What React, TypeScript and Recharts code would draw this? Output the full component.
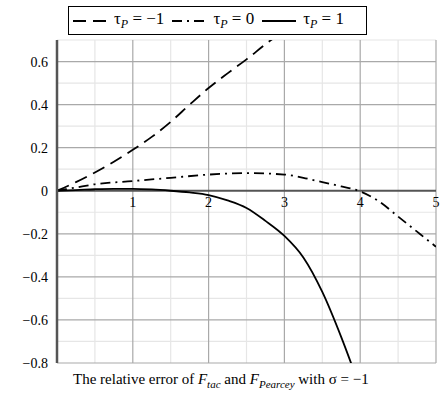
import { LineChart, Line, XAxis, YAxis, ReferenceLine, ReferenceDot, Legend } from "recharts";

// tau_P = -1 (dashed)
const xNeg1 = [0, 0.25, 0.5, 0.75, 1, 1.25, 1.5, 1.75, 2, 2.25, 2.5, 2.75, 3];
const yNeg1 = [0, 0.04, 0.085, 0.135, 0.19, 0.25, 0.32, 0.4, 0.477, 0.545, 0.61, 0.68, 0.745];

// tau_P = 0 (dash-dot)
const xZero = [0, 0.25, 0.5, 1, 1.5, 2, 2.5, 3, 3.25, 3.5, 3.75, 4, 4.25, 4.5, 4.75, 5];
const yZero = [0, 0.015, 0.03, 0.045, 0.06, 0.075, 0.082, 0.075, 0.06, 0.04, 0.02, -0.003, -0.05, -0.12, -0.19, -0.26];

// tau_P = 1 (solid)
const xOne = [0, 0.25, 0.5, 0.75, 1, 1.25, 1.5, 1.75, 2, 2.25, 2.5, 2.75, 3, 3.25, 3.5, 3.75, 3.9];
const yOne = [0, 0.003, 0.007, 0.009, 0.009, 0.006, 0, -0.008, -0.02, -0.045, -0.08, -0.14, -0.21, -0.31, -0.47, -0.68, -0.82];

const xTicks = [1, 2, 3, 4, 5];
const xMinor = [0.5, 1.5, 2.5, 3.5, 4.5];
const yTicks = [-0.8, -0.6, -0.4, -0.2, 0, 0.2, 0.4, 0.6];
const yMinor = [-0.7, -0.5, -0.3, -0.1, 0.1, 0.3, 0.5, 0.7];

const tauLabels = ["−1", "0", "1"];

const toPoints = (xs: number[], ys: number[]) => xs.map((x, i) => ({ x, y: ys[i] }));

const series = [
  { data: toPoints(xNeg1, yNeg1), dash: "13 7" },
  { data: toPoints(xZero, yZero), dash: "10 5 2 5" },
  { data: toPoints(xOne, yOne), dash: undefined },
];

const FONT = "Liberation Serif, Times New Roman, serif";

const fmtY = (v: number) => (v === 0 ? "0" : v < 0 ? "−" + Math.abs(v).toFixed(1) : v.toFixed(1));

function LegendBox() {
  return (
    <div
      style={{
        display: "flex",
        alignItems: "center",
        border: "1px solid #000",
        background: "#fff",
        height: 27,
        width: 293,
        fontFamily: FONT,
        fontSize: 17,
        color: "#000",
        paddingLeft: 4,
        boxSizing: "content-box",
      }}
    >
      {series.map((s, i) => (
        <div key={i} style={{ display: "flex", alignItems: "center", marginLeft: i === 0 ? 0 : 8 }}>
          <svg width={34} height={10}>
            <line x1={0} y1={5} x2={34} y2={5} stroke="#000" strokeWidth={2} strokeDasharray={s.dash} />
          </svg>
          <span style={{ marginLeft: 7, whiteSpace: "nowrap" }}>
            τ<sub style={{ fontStyle: "italic", fontSize: 12, verticalAlign: -4 }}>P</sub> = {tauLabels[i]}
          </span>
        </div>
      ))}
    </div>
  );
}

export default function App() {
  return (
    <div
      style={{
        position: "absolute",
        left: 0,
        top: 0,
        width: 447,
        height: 398,
        background: "#fff",
        fontFamily: FONT,
      }}
    >
      <LineChart
        width={447}
        height={398}
        margin={{ top: 40, right: 11, bottom: 35, left: 0 }}
        style={{ fontFamily: FONT }}
      >
        <XAxis type="number" dataKey="x" domain={[0, 5]} hide allowDataOverflow />
        <YAxis
          type="number"
          domain={[-0.8, 0.7]}
          ticks={yTicks}
          allowDataOverflow
          width={57}
          tickFormatter={fmtY}
          tickLine={false}
          tickSize={0}
          tickMargin={9}
          axisLine={{ stroke: "#555", strokeWidth: 2.5 }}
          tick={{ fill: "#000", fontSize: 14, fontFamily: FONT }}
        />
        {xMinor.map((v) => (
          <ReferenceLine key={"xm" + v} x={v} stroke="#e6e6e6" strokeWidth={1.2} />
        ))}
        {yMinor.map((v) => (
          <ReferenceLine key={"ym" + v} y={v} stroke="#e6e6e6" strokeWidth={1.2} />
        ))}
        {xTicks.map((v) => (
          <ReferenceLine key={"xM" + v} x={v} stroke="#a9a9a9" strokeWidth={1.2} />
        ))}
        {yTicks
          .filter((v) => v !== 0)
          .map((v) => (
            <ReferenceLine key={"yM" + v} y={v} stroke="#a9a9a9" strokeWidth={1.2} />
          ))}
        <ReferenceLine y={0} stroke="#555" strokeWidth={2} />
        {xTicks.map((v) => (
          <ReferenceDot
            key={"xl" + v}
            x={v}
            y={0}
            r={0}
            fill="none"
            stroke="none"
            label={{
              value: String(v),
              position: "bottom",
              offset: 6,
              fill: "#000",
              fontSize: 14,
              fontFamily: FONT,
            }}
          />
        ))}
        {series.map((s, i) => (
          <Line
            key={i}
            data={s.data}
            dataKey="y"
            type="monotone"
            stroke="#000"
            strokeWidth={1.8}
            strokeDasharray={s.dash}
            dot={false}
            activeDot={false}
            isAnimationActive={false}
          />
        ))}
        <Legend
          layout="vertical"
          align="center"
          verticalAlign="middle"
          wrapperStyle={{ top: 6, left: 68, width: "auto" }}
          content={() => <LegendBox />}
        />
      </LineChart>
      <div
        style={{
          position: "absolute",
          left: 73,
          top: 371,
          fontSize: 15,
          color: "#000",
          whiteSpace: "nowrap",
        }}
      >
        The relative error of <i>F</i>
        <sub style={{ fontStyle: "italic", fontSize: 11 }}>tac</sub> and <i>F</i>
        <sub style={{ fontStyle: "italic", fontSize: 11 }}>Pearcey</sub> with σ = −1
      </div>
    </div>
  );
}
